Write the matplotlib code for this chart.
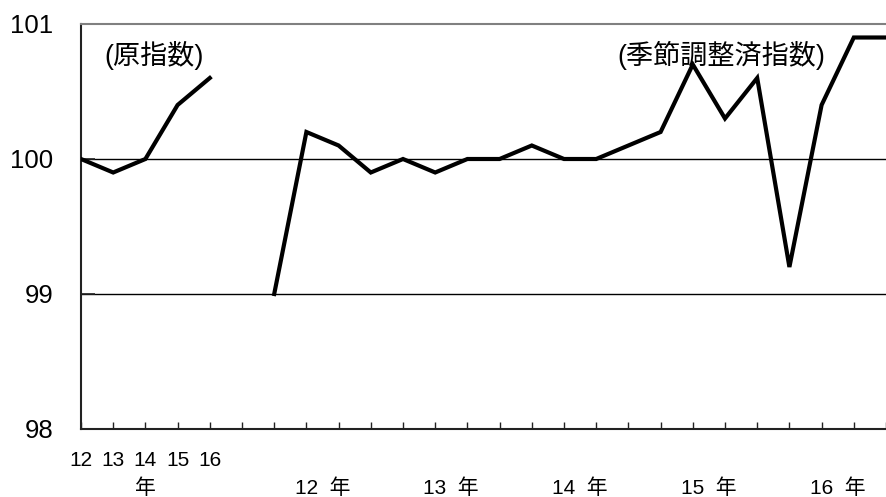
import numpy as np
import matplotlib
matplotlib.use("Agg")
import matplotlib.pyplot as plt
import matplotlib.transforms as mtransforms

plt.rcParams['font.family'] = ['Liberation Sans', 'Noto Sans CJK JP', 'DejaVu Sans']

# --- data ---
orig_labels = ['12', '13', '14', '15', '16']
orig_values = [100.0, 99.9, 100.0, 100.4, 100.6]

year_labels = ['12  年', '13  年', '14  年', '15  年', '16  年']
sa_values = [99.0, 100.2, 100.1, 99.9,
             100.0, 99.9, 100.0, 100.0,
             100.1, 100.0, 100.0, 100.1,
             100.2, 100.7, 100.3, 100.6,
             99.2, 100.4, 100.9, 100.9]
y_ticks = [98, 99, 100, 101]

orig_title = '(原指数)'
sa_title = '(季節調整済指数)'

# --- positions ---
n_orig = len(orig_values)
x_orig = np.arange(n_orig)
sa_start = n_orig + 1
x_sa = sa_start + np.arange(len(sa_values))
n_total = sa_start + len(sa_values)

fig = plt.figure(figsize=(8.86, 4.97), dpi=100)
ax = fig.add_axes([81 / 886, 68 / 497, 805 / 886, 405 / 497])

ax.plot(x_orig, orig_values, color='black', lw=3, solid_joinstyle='miter', zorder=3)
ax.plot(x_sa, sa_values, color='black', lw=3, solid_joinstyle='miter', zorder=3)

ax.set_xlim(0, 805 / 32.54)
ax.set_ylim(98, 101)
ax.set_yticks(y_ticks)
ax.set_yticklabels([str(v) for v in y_ticks], fontsize=18.5)
ax.tick_params(axis='y', direction='in', length=10, width=1.2, pad=20, colors='#222222', labelcolor='black')
ax.set_xticks(np.arange(n_total))
ax.set_xticklabels([])
ax.tick_params(axis='x', direction='in', length=5, width=1, colors='#222222')

for yv in [99, 100]:
    ax.axhline(yv, color='black', lw=1, zorder=1)

ax.spines['left'].set_color('#222222')
ax.spines['left'].set_linewidth(1.5)
ax.spines['bottom'].set_color('#222222')
ax.spines['bottom'].set_linewidth(1.5)
ax.spines['top'].set_color('#808080')
ax.spines['top'].set_linewidth(1.5)
ax.spines['right'].set_visible(False)

trans = mtransforms.blended_transform_factory(ax.transData, fig.transFigure)
for x, lab in zip(x_orig, orig_labels):
    ax.text(x, 1 - 460 / 497, lab, transform=trans, ha='center', va='center', fontsize=15, clip_on=False)
ax.text(x_orig[n_orig // 2], 1 - 488 / 497, '年', transform=trans, ha='center', va='center', fontsize=15, clip_on=False)
for i, lab in enumerate(year_labels):
    xc = sa_start + 4 * i + 1.5
    ax.text(xc, 1 - 488 / 497, lab, transform=trans, ha='center', va='center', fontsize=15, clip_on=False)

ax.text(0.74, 100.77, orig_title, ha='left', va='center', fontsize=19.5)
ax.text(16.66, 100.77, sa_title, ha='left', va='center', fontsize=19.5)

fig.savefig('out.png', dpi=100)
